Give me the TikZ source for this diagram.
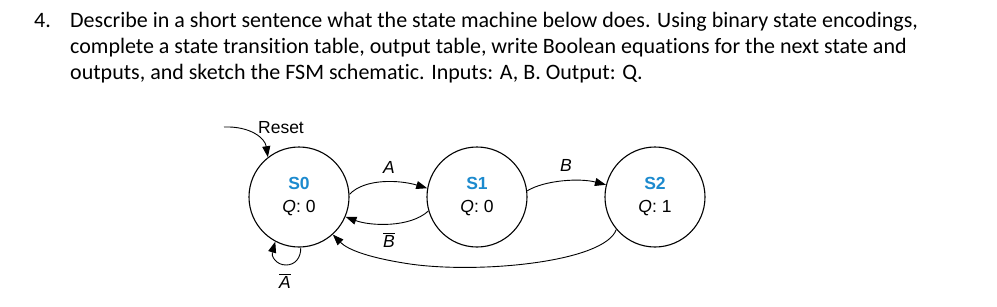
\documentclass[tikz,border=0pt]{standalone}
\usepackage{fontspec}
\setmainfont{Liberation Sans}
\newfontfamily\calib[Ligatures={NoCommon}]{Carlito}
\usetikzlibrary{arrows.meta}
\definecolor{stblue}{RGB}{28,138,206}
\newcommand{\ovl}[1]{$\overline{\hbox{\itshape #1}}$}
\begin{document}
\begin{tikzpicture}[x=1pt,y=-1pt,
  state/.style={circle,draw,line width=1.1pt,minimum size=100pt,inner sep=0pt,align=center,font=\fontsize{17.5}{23}\selectfont},
  trans/.style={line width=0.9pt,-{Triangle[length=11pt,width=8pt]}},
  lbl/.style={font=\fontsize{17.5}{20}\selectfont},
  txt/.style={anchor=base west,inner sep=0pt,font=\calib\fontsize{22}{26}\selectfont}]
\useasboundingbox (0,0) rectangle (997,306);
\node[txt] (n4) at (34,27) {4.};
\node[txt] (l1) at (70,27) {Describe in a short sentence what the state machine below does. Using binary state encodings,};
\node[txt] (l2) at (70,53) {complete a state transition table, output table, write Boolean equations for the next state and};
\node[txt] (l3) at (70,79) {outputs, and sketch the FSM schematic. Inputs: A, B. Output: Q.};

\node[state] (s0) at (299,197) {{\color{stblue}\bfseries S0}\\\textit{Q}: 0};
\node[state] (s1) at (477,197) {{\color{stblue}\bfseries S1}\\\textit{Q}: 0};
\node[state] (s2) at (655,197) {{\color{stblue}\bfseries S2}\\\textit{Q}: 1};

\coordinate (rs) at (224,127);
\node[lbl] (reset) at (281,128) {Reset};
\draw[trans] (rs) .. controls (250,126) and (265,138) .. (s0.128);

\draw[trans] (s0.3) .. controls (365,178) and (400,180) .. (s1.170);
\node[lbl] (la) at (389,167) {\itshape A};
\draw[trans] (s1.196) .. controls (410,228) and (370,226) .. (s0.-23);
\node[lbl] (lb) at (389,240) {\ovl{B}};

\draw[trans] (s1.7) .. controls (545,180) and (580,178) .. (s2.166);
\node[lbl] (lbb) at (566,165) {\itshape B};

\draw[trans] (s2.-140) .. controls (605,262) and (480,274) .. (410,264) .. controls (370,258) and (348,250) .. (s0.-48);

\draw[trans] (s0.-88) .. controls (301,258) and (295,265) .. (286,265) .. controls (276,265) and (271,256) .. (s0.-118);
\node[lbl] (lna) at (285,281) {\ovl{A}};
\end{tikzpicture}
\end{document}
